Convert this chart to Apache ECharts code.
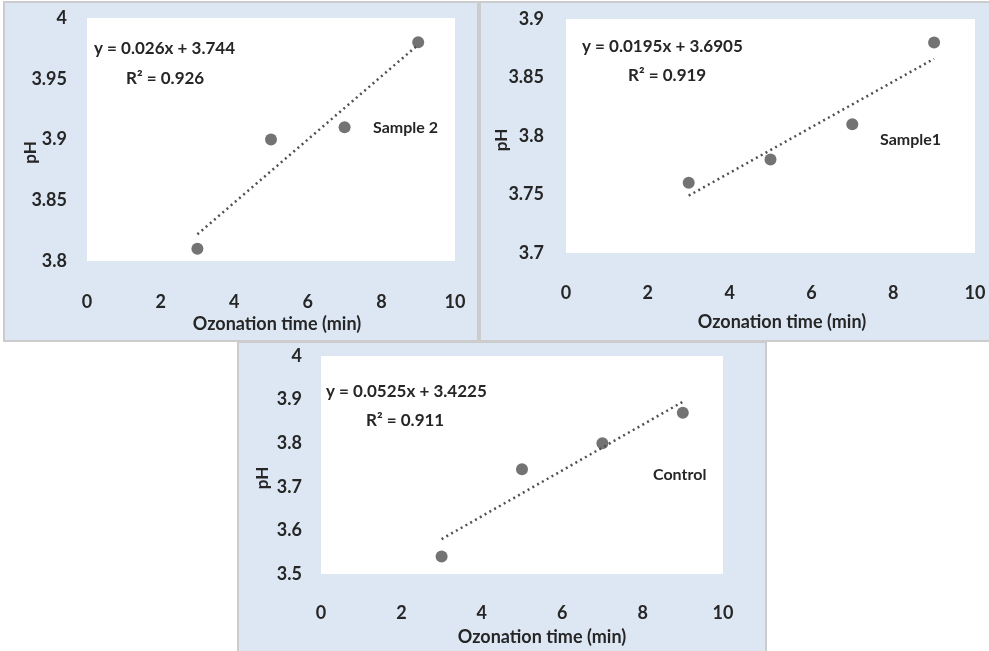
<!DOCTYPE html>
<html>
<head>
<meta charset="utf-8">
<script src="https://cdn.jsdelivr.net/npm/echarts@6/dist/echarts.min.js"></script>
<style>
html,body{margin:0;padding:0;background:#fff;}
#c{width:989px;height:651px;}
</style>
</head>
<body>
<div id="c"></div>
<script>
// ---- data ----
const xValues = [3, 5, 7, 9];
const sample2PH = [3.81, 3.90, 3.91, 3.98];
const sample1PH = [3.76, 3.78, 3.81, 3.88];
const controlPH = [3.54, 3.74, 3.80, 3.87];
const panelNames = ['Sample 2', 'Sample1', 'Control'];
const trendSlopes = [0.026, 0.0195, 0.0525];
const trendIntercepts = [3.744, 3.6905, 3.4225];
const rSquared = ['0.926', '0.919', '0.911'];
const slopeText = ['0.026', '0.0195', '0.0525'];
const interceptText = ['3.744', '3.6905', '3.4225'];
const yMins = [3.8, 3.7, 3.5];
const yMaxs = [4, 3.9, 4];
const yIntervals = [0.05, 0.05, 0.1];
const xMin = 0, xMax = 10, xInterval = 2;
const xAxisTitle = 'Ozonation time (min)';
const yAxisTitle = 'pH';

const seriesValues = [sample2PH, sample1PH, controlPH];

// ---- layout ----
const FONT = 'Lato';
const TXT = '#262626';
const MARK = '#505050';
const panelRects = [
  {x: 4, y: 2, w: 474, h: 339},
  {x: 480, y: 2, w: 511, h: 339},
  {x: 238, y: 342, w: 528, h: 312}
];
const grids = [
  {left: 87, top: 18, width: 368, height: 243},
  {left: 566, top: 19, width: 409, height: 234},
  {left: 321, top: 356, width: 402, height: 218}
];
const xLabelMargin = [32, 31, 30];
const yLabelMargin = [20, 22, 19];
const xNameGap = [54, 60, 54];
const xNamePad = [12, 23, 40];
const yNameGap = [48, 56, 50];
const yNameShift = [26, 8, 26];
const annot = [
  {eq: [94, 49], r2: [126, 79], nm: [373, 128]},
  {eq: [582, 47], r2: [628, 76], nm: [880, 140]},
  {eq: [326, 392], r2: [366, 421], nm: [653, 475]}
];

const chart = echarts.init(document.getElementById('c'));

const graphic = [];
panelRects.forEach(r => {
  graphic.push({type: 'rect', z: -10, shape: {x: r.x, y: r.y, width: r.w, height: r.h},
    style: {fill: '#dde7f3', stroke: '#cccccc', lineWidth: 2}});
});
annot.forEach((a, i) => {
  graphic.push({type: 'text', z: 50, x: a.eq[0], y: a.eq[1], style: {
    text: 'y = ' + slopeText[i] + 'x + ' + interceptText[i], font: 'bold 17px ' + FONT,
    fill: TXT, textAlign: 'left', textVerticalAlign: 'middle'}});
  graphic.push({type: 'text', z: 50, x: a.r2[0], y: a.r2[1], style: {
    text: 'R\u00B2 = ' + rSquared[i], font: 'bold 17px ' + FONT,
    fill: TXT, textAlign: 'left', textVerticalAlign: 'middle'}});
  graphic.push({type: 'text', z: 50, x: a.nm[0], y: a.nm[1], style: {
    text: panelNames[i], font: 'bold 16px ' + FONT,
    fill: TXT, textAlign: 'left', textVerticalAlign: 'middle'}});
});

const xAxes = [], yAxes = [], series = [];
grids.forEach((g, i) => {
  xAxes.push({
    type: 'value', gridIndex: i, min: xMin, max: xMax, interval: xInterval,
    axisLine: {show: false}, axisTick: {show: false}, splitLine: {show: false},
    axisLabel: {margin: xLabelMargin[i], color: TXT, fontFamily: FONT, fontSize: 18, fontWeight: 'bold'},
    name: xAxisTitle, nameLocation: 'middle', nameGap: xNameGap[i], nameMoveOverlap: false,
    nameTextStyle: {color: TXT, fontFamily: FONT, fontSize: 18, fontWeight: 'bold', padding: [0, 0, 0, xNamePad[i]]}
  });
  yAxes.push({
    type: 'value', gridIndex: i, min: yMins[i], max: yMaxs[i], interval: yIntervals[i],
    axisLine: {show: false}, axisTick: {show: false}, splitLine: {show: false},
    axisLabel: {margin: yLabelMargin[i], color: TXT, fontFamily: FONT, fontSize: 18, fontWeight: 'bold'},
    name: yAxisTitle, nameLocation: 'middle', nameGap: yNameGap[i], nameRotate: 90, nameMoveOverlap: false,
    nameTextStyle: {color: TXT, fontFamily: FONT, fontSize: 17, fontWeight: 'bold', padding: [0, yNameShift[i], 0, 0]}
  });
  const pts = xValues.map((x, k) => [x, seriesValues[i][k]]);
  series.push({
    type: 'scatter', xAxisIndex: i, yAxisIndex: i, data: pts,
    symbolSize: 12, itemStyle: {color: MARK}, z: 3
  });
  const x0 = xValues[0], x1 = xValues[xValues.length - 1];
  series.push({
    type: 'line', xAxisIndex: i, yAxisIndex: i, showSymbol: false, symbol: 'none',
    data: [[x0, trendSlopes[i] * x0 + trendIntercepts[i]], [x1, trendSlopes[i] * x1 + trendIntercepts[i]]],
    lineStyle: {color: MARK, width: 2.5, type: [2, 3.5]}, z: 2, silent: true
  });
});

chart.setOption({
  animation: false,
  backgroundColor: '#ffffff',
  grid: grids.map(g => Object.assign({show: true, backgroundColor: '#ffffff', borderWidth: 0}, g)),
  xAxis: xAxes,
  yAxis: yAxes,
  graphic: graphic,
  series: series
});
</script>
</body>
</html>
